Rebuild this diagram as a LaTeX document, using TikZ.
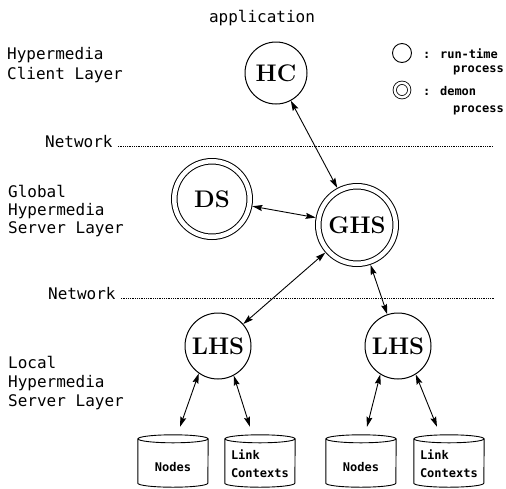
\documentclass[tikz,border=0pt]{standalone}
\usepackage{fontspec}
\newfontfamily\typefont{DejaVu Sans Mono}
\usetikzlibrary{arrows.meta,calc}
\begin{document}
\begin{tikzpicture}[x=1pt,y=-1pt,
  proc/.style={circle, draw, line width=1pt, inner sep=0pt,
    font=\fontsize{24}{24}\selectfont\bfseries},
  demon/.style={proc, double, double distance=4.5pt, outer sep=3.25pt},
  lab/.style={font=\typefont\fontsize{16}{20}\selectfont, inner sep=0pt},
  small/.style={font=\typefont\bfseries\fontsize{12}{18}\selectfont, inner sep=0pt},
  link/.style={line width=0.9pt, {Stealth[length=10pt,width=6pt,inset=1.5pt]}-{Stealth[length=10pt,width=6pt,inset=1.5pt]}},
  netline/.style={line width=0.6pt, dash pattern=on 0.6pt off 1.2pt},
  store/.style={minimum width=70pt, minimum height=52pt, inner sep=0pt},
  cylline/.style={line width=0.9pt},
]
\useasboundingbox (0,0) rectangle (506,488);

% layer captions
\node[lab] (app) at (262,18) {application};
\node[lab, align=left, anchor=west] (client) at (7,65) {Hypermedia\\Client Layer};
\node[lab, font=\typefont\fontsize{16}{18}\selectfont, align=left, anchor=west] (global) at (8,211) {Global\\Hypermedia\\Server Layer};
\node[lab, font=\typefont\fontsize{16}{19}\selectfont, align=left, anchor=west] (local) at (8,383) {Local\\Hypermedia\\Server Layer};

% network boundaries
\node[lab, anchor=base west] (netA) at (45,147) {Network};
\coordinate (netAend) at (493,146);
\draw[netline] ([xshift=5pt,yshift=1pt]netA.base east) -- (netAend);
\node[lab, anchor=base west] (netB) at (48,299) {Network};
\coordinate (netBend) at (495,298);
\draw[netline] ([xshift=5pt,yshift=1pt]netB.base east) -- (netBend);

% legend
\node[circle, draw, line width=0.9pt, minimum size=19pt, inner sep=0pt] (keyrun) at (402,53) {};
\node[circle, draw, line width=0.8pt, double, double distance=2.5pt, minimum size=14.5pt, inner sep=0pt] (keydemon) at (402,90) {};
\node[small, anchor=base west] (keyruntxt) at (423,58) {: run-time};
\node[small, anchor=base west] (keyrunproc) at (453,72) {process};
\node[small, anchor=base west] (keydemtxt) at (423,95) {: demon};
\node[small, anchor=base west] (keydemproc) at (453,112) {process};

% processes
\node[proc, minimum size=62pt] (hc) at (276,73) {HC};
\node[demon, minimum size=75.5pt] (ds) at (212,199) {DS};
\node[demon, minimum size=77.5pt] (ghs) at (357,225) {GHS};
\node[proc, minimum size=66pt] (lhsA) at (218,346) {LHS};
\node[proc, minimum size=66pt] (lhsB) at (398,346) {LHS};

% storage
\node[store] (nA) at (173,461) {};
\node[store] (lA) at (260,461) {};
\node[store] (nB) at (361,461) {};
\node[store] (lB) at (449,461) {};
\foreach \c in {nA,lA,nB,lB} {
  \draw[cylline] ($(\c.north)+(0,4)$) ellipse [x radius=35pt, y radius=4pt];
  \draw[cylline] ($(\c.north west)+(0,4)$) -- ($(\c.south west)+(0,-4)$)
    arc[start angle=180, end angle=360, x radius=35pt, y radius=4pt]
    -- ($(\c.north east)+(0,4)$);
}
\node[small] (nAtxt) at ([yshift=-6pt]nA.center) {Nodes};
\node[small] (nBtxt) at ([yshift=-6pt]nB.center) {Nodes};
\node[small, align=left, anchor=west] (lAtxt) at ([xshift=6pt,yshift=-3pt]lA.west) {Link\\Contexts};
\node[small, align=left, anchor=west] (lBtxt) at ([xshift=6pt,yshift=-3pt]lB.west) {Link\\Contexts};

% connections
\draw[link] (hc) -- (ghs);
\draw[link] (ds) -- (ghs);
\draw[link] (ghs) -- (lhsA);
\draw[link] (ghs) -- (lhsB);
\draw[link] (lhsA.235) -- ([xshift=7pt,yshift=8pt]nA.north);
\draw[link] (lhsA.298) -- ([xshift=-10pt,yshift=8pt]lA.north);
\draw[link] (lhsB.238) -- ([xshift=6pt,yshift=8pt]nB.north);
\draw[link] (lhsB.302) -- ([xshift=-12pt,yshift=8pt]lB.north);
\end{tikzpicture}
\end{document}
